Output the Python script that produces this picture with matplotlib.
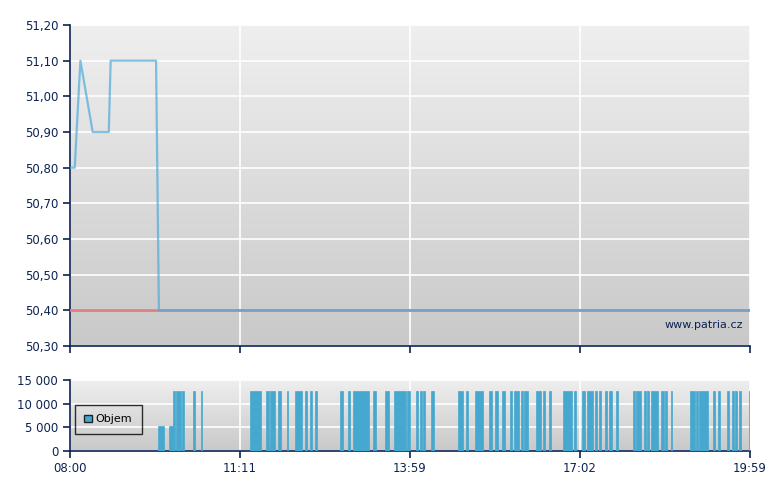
import numpy as np
import matplotlib
matplotlib.use("Agg")
import matplotlib.pyplot as plt
from matplotlib.colors import LinearSegmentedColormap
from matplotlib.patches import Patch

# ---- data (minutes since 08:00) ----
price_t = [0, 5, 11, 24, 41, 43, 91, 94, 719]
price_v = [50.80, 50.80, 51.10, 50.90, 50.90, 51.10, 51.10, 50.40, 50.40]
ref_price = 50.40

bar_start = [93, 105, 109, 112, 118, 130, 138, 190, 207, 211, 220, 229, 238, 249, 254, 259,
             286, 294, 299, 320, 333, 343, 356, 366, 370, 373, 382, 410, 419, 428, 443, 449,
             457, 465, 469, 477, 480, 493, 500, 507, 521, 533, 541, 547, 555, 559, 566, 570,
             577, 595, 598, 607, 610, 614, 625, 629, 635, 656, 662, 665, 680, 685, 695, 700,
             703, 707, 718]
bar_len = [6, 4, 2, 5, 3, 2, 2, 12, 3, 6, 3, 2, 7, 2, 2, 2,
           3, 2, 17, 4, 4, 12, 4, 2, 2, 2, 3, 6, 2, 9, 3, 4,
           3, 2, 6, 2, 4, 5, 2, 2, 10, 2, 4, 6, 2, 2, 2, 3,
           2, 2, 6, 2, 2, 8, 3, 2, 2, 5, 2, 10, 2, 2, 2, 2,
           2, 2, 1]
bar_vol = [5300, 5300] + [12600] * (len(bar_start) - 2)

x_ticks = [0, 179.75, 359.5, 539.25, 719]
x_labels = ["08:00", "11:11", "13:59", "17:02", "19:59"]
price_ticks = [50.30, 50.40, 50.50, 50.60, 50.70, 50.80, 50.90, 51.00, 51.10, 51.20]
vol_ticks = [0, 5000, 10000, 15000]
vol_labels = ["0", "5 000", "10 000", "15 000"]

navy = "#0c2352"
bar_color = "#47a8cf"
plt.rcParams['font.family'] = ['DejaVu Sans']

fig = plt.figure(figsize=(7.8, 4.9), dpi=100)
ax = fig.add_axes([70/780, (490-346)/490, 680/780, 321/490])
axv = fig.add_axes([70/780, (490-450.5)/490, 680/780, 70.5/490])

cmap = LinearSegmentedColormap.from_list("bg", ["#c9c9c9", "#efefef"])

def style(a):
    a.imshow(np.linspace(0, 1, 256).reshape(-1, 1), extent=[0, 1, 0, 1], origin="lower",
             transform=a.transAxes, aspect="auto", cmap=cmap, zorder=0)
    for s in ["top", "right"]:
        a.spines[s].set_visible(False)
    for s in ["left", "bottom"]:
        a.spines[s].set_color(navy)
        a.spines[s].set_linewidth(1.2)
    a.tick_params(colors=navy, labelcolor=navy, labelsize=8.5, length=5, width=1.2, direction="out")
    a.grid(True, color="white", linewidth=1.2)
    a.set_xlim(0, 719)
    a.set_xticks(x_ticks)

# main price panel
style(ax)
ax.plot([0, 719], [ref_price, ref_price], color="#e07f7f", linewidth=2, zorder=3)
ax.plot(price_t, price_v, color="#52abd8", linewidth=1.6, alpha=0.72, zorder=4)
ax.set_ylim(50.30, 51.20)
ax.set_yticks(price_ticks)
ax.set_yticklabels([f"{v:.2f}".replace(".", ",") for v in price_ticks])
ax.set_xticklabels([])
ax.text(0.99, 0.065, "www.patria.cz", transform=ax.transAxes, ha="right", va="center",
        color=navy, fontsize=8)

# volume panel
style(axv)
axv.bar(bar_start, bar_vol, width=bar_len, align="edge", color=bar_color,
        edgecolor=bar_color, linewidth=0.5, zorder=3)
axv.set_ylim(0, 15000)
axv.set_yticks(vol_ticks)
axv.set_yticklabels(vol_labels)
axv.set_xticklabels(x_labels)
leg = axv.legend(handles=[Patch(facecolor=bar_color, edgecolor="#222222", label="Objem")],
                 loc="upper left", bbox_to_anchor=(5/680, 45.5/70.5), borderaxespad=0,
                 frameon=True, fancybox=False,
                 fontsize=8, handlelength=0.7, handleheight=0.7, borderpad=0.85,
                 handletextpad=0.3)
leg.get_frame().set_edgecolor("black")
leg.get_frame().set_facecolor("none")
leg.get_frame().set_linewidth(1.0)

fig.savefig("out.png", dpi=100)
